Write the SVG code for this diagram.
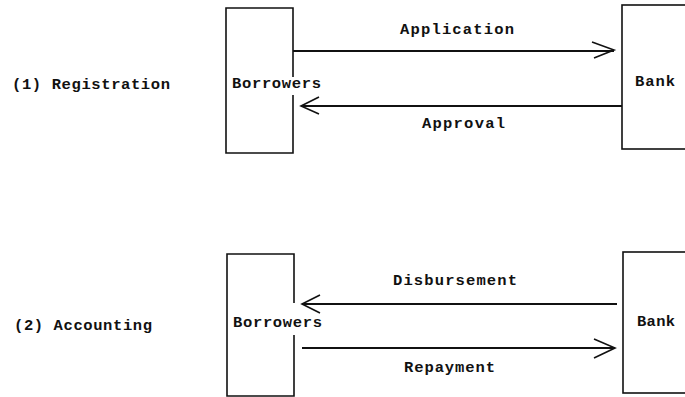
<svg xmlns="http://www.w3.org/2000/svg" width="685" height="397" viewBox="0 0 685 397">
<style>
.t{font-family:"Liberation Mono","DejaVu Sans Mono",monospace;font-size:15.5px;font-weight:bold;fill:#111}
.box{fill:none;stroke:#111;stroke-width:1.6}
.ln{stroke:#111;stroke-width:1.8;fill:none}
.hd{stroke:#111;stroke-width:1.6;fill:none}
</style>
<rect width="685" height="397" fill="#fff"/>
<g id="label1"><text class="t" x="12" y="89" textLength="158" lengthAdjust="spacing">(1) Registration</text></g>
<g id="label2"><text class="t" x="14" y="330" textLength="138" lengthAdjust="spacing">(2) Accounting</text></g>
<g id="borrowers1">
<path class="box" d="M293,77 V8 H226 V153 H293 V95"/>
<text class="t" x="232" y="88" textLength="89" lengthAdjust="spacing">Borrowers</text>
</g>
<g id="bank1">
<rect class="box" x="622" y="5" width="70" height="144"/>
<text class="t" x="635" y="86" textLength="40" lengthAdjust="spacing">Bank</text>
</g>
<g id="borrowers2">
<path class="box" d="M294,303 V254 H227 V396 H294 V335"/>
<text class="t" x="233" y="327" textLength="89" lengthAdjust="spacing">Borrowers</text>
</g>
<g id="bank2">
<rect class="box" x="623" y="252" width="70" height="141"/>
<text class="t" x="637" y="326" textLength="38" lengthAdjust="spacing">Bank</text>
</g>
<g id="connectors">
<line class="ln" x1="293" y1="51" x2="614" y2="51"/>
<polyline class="hd" points="592,42 614,50 594,58"/>
<text class="t" x="400" y="34" textLength="114" lengthAdjust="spacing">Application</text>
<line class="ln" x1="301" y1="106" x2="622" y2="106"/>
<polyline class="hd" points="319,97 301,106 319,114"/>
<text class="t" x="422" y="128" textLength="83" lengthAdjust="spacing">Approval</text>
<line class="ln" x1="302" y1="304" x2="617" y2="304"/>
<polyline class="hd" points="320,295 302,304 320,313"/>
<text class="t" x="393" y="285" textLength="124" lengthAdjust="spacing">Disbursement</text>
<line class="ln" x1="302" y1="348" x2="615" y2="348"/>
<polyline class="hd" points="594,339 615,348 594,358"/>
<text class="t" x="404" y="372" textLength="91" lengthAdjust="spacing">Repayment</text>
</g>
</svg>
